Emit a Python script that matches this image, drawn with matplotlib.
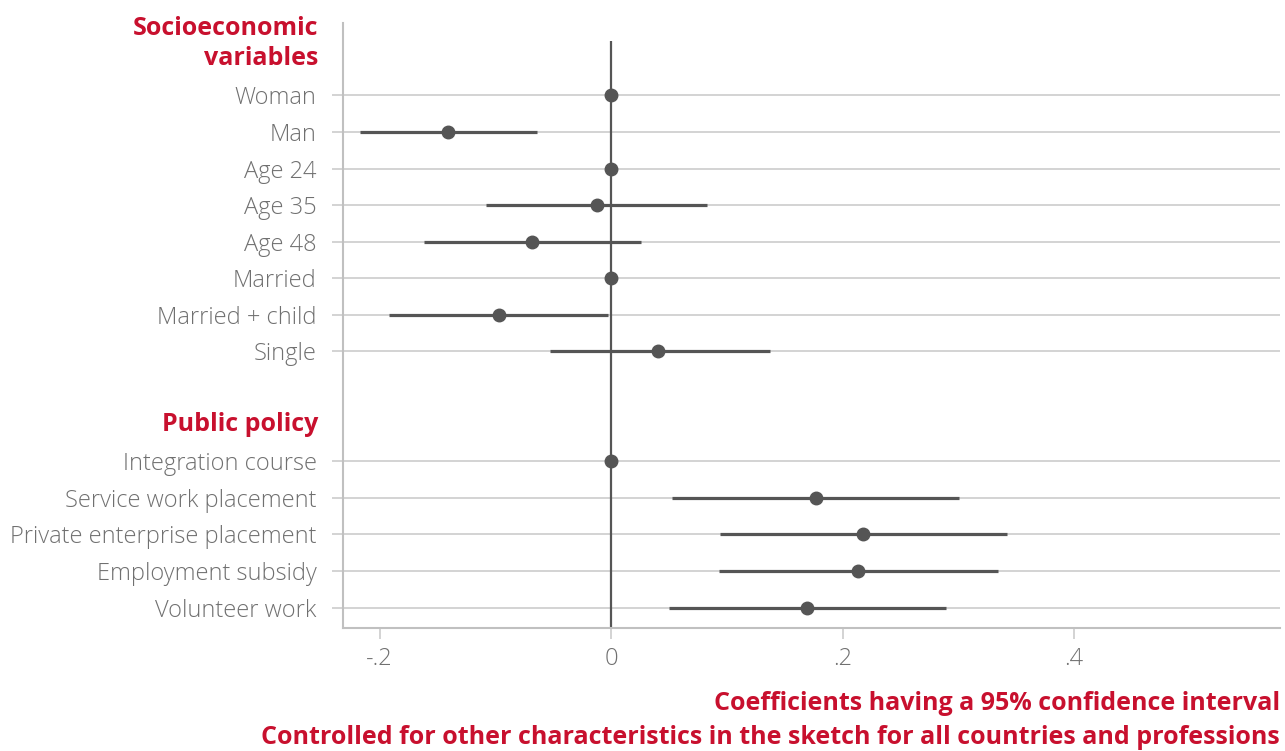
import matplotlib.pyplot as plt
import numpy as np

# coefficient estimates with 95% CI
socio_labels = ["Woman", "Man", "Age 24", "Age 35", "Age 48", "Married", "Married + child", "Single"]
socio_coef = [0.0, -0.141, 0.0, -0.012, -0.068, 0.0, -0.097, 0.041]
socio_lo = [None, -0.217, None, -0.108, -0.162, None, -0.192, -0.053]
socio_hi = [None, -0.064, None, 0.083, 0.026, None, -0.003, 0.137]

policy_labels = ["Integration course", "Service work placement", "Private enterprise placement",
                 "Employment subsidy", "Volunteer work"]
policy_coef = [0.0, 0.177, 0.218, 0.213, 0.169]
policy_lo = [None, 0.053, 0.094, 0.093, 0.050]
policy_hi = [None, 0.301, 0.342, 0.334, 0.289]

xtick_vals = [-0.2, 0, 0.2, 0.4]
xtick_text = ["-.2", "0", ".2", ".4"]

RED = "#C8102E"
GREY_TXT = "#707070"
DARK = "#555555"
GRID = "#c8c8c8"
plt.rcParams['font.family'] = ['Open Sans', 'DejaVu Sans']

fig = plt.figure(figsize=(12.85, 7.51), dpi=100)
ax = fig.add_axes([343 / 1285, 123 / 751, 937 / 1285, 605 / 751])

# row positions: headers sit on rows 0 and 10
socio_pos = np.arange(1, len(socio_labels) + 1)
policy_pos = np.arange(11, 11 + len(policy_labels))
labels = socio_labels + policy_labels
pos = np.concatenate([socio_pos, policy_pos])
coef = socio_coef + policy_coef
lo = socio_lo + policy_lo
hi = socio_hi + policy_hi

for y in pos:
    ax.axhline(y, color=GRID, lw=1.1, zorder=1)

ax.plot([0, 0], [-0.5, 15.56], color=DARK, lw=1.6, zorder=2, solid_capstyle='butt')

for y, c, l, h in zip(pos, coef, lo, hi):
    if l is not None:
        ax.plot([l, h], [y, y], color=DARK, lw=2.3, zorder=3, solid_capstyle='butt')
    ax.plot(c, y, 'o', color=DARK, ms=9, zorder=4)

ax.set_xlim(-0.2316, 0.578)
ax.set_ylim(15.56, -0.98)

ax.set_yticks(pos, labels)
ax.set_xticks(xtick_vals, xtick_text)
ax.tick_params(axis='y', length=8, width=1.1, color=GRID, pad=11, labelsize=17, labelcolor=GREY_TXT)
ax.tick_params(axis='x', length=8, width=1.1, color=GRID, pad=6, labelsize=17, labelcolor=GREY_TXT)
for lab in ax.get_yticklabels() + ax.get_xticklabels():
    lab.set_fontweight('light')

for s in ['top', 'right']:
    ax.spines[s].set_visible(False)
for s in ['left', 'bottom']:
    ax.spines[s].set_color("#c0c0c0")
    ax.spines[s].set_linewidth(1.5)

# group headers
tr = ax.get_yaxis_transform()
hdr = dict(transform=tr, ha='right', va='center', color=RED, fontsize=18, fontweight='bold')
ax.text(-0.026, -0.82, "Socioeconomic", **hdr)
ax.text(-0.026, 0.0, "variables", **hdr)
ax.text(-0.026, 10.0, "Public policy", **hdr)

# notes bottom right
fig.text(1280 / 1285, 1 - 703 / 751, "Coefficients having a 95% confidence interval",
         ha='right', va='center', color=RED, fontsize=18, fontweight='bold')
fig.text(1280 / 1285, 1 - 737 / 751, "Controlled for other characteristics in the sketch for all countries and professions",
         ha='right', va='center', color=RED, fontsize=18, fontweight='bold')

fig.savefig("out.png", dpi=100)
